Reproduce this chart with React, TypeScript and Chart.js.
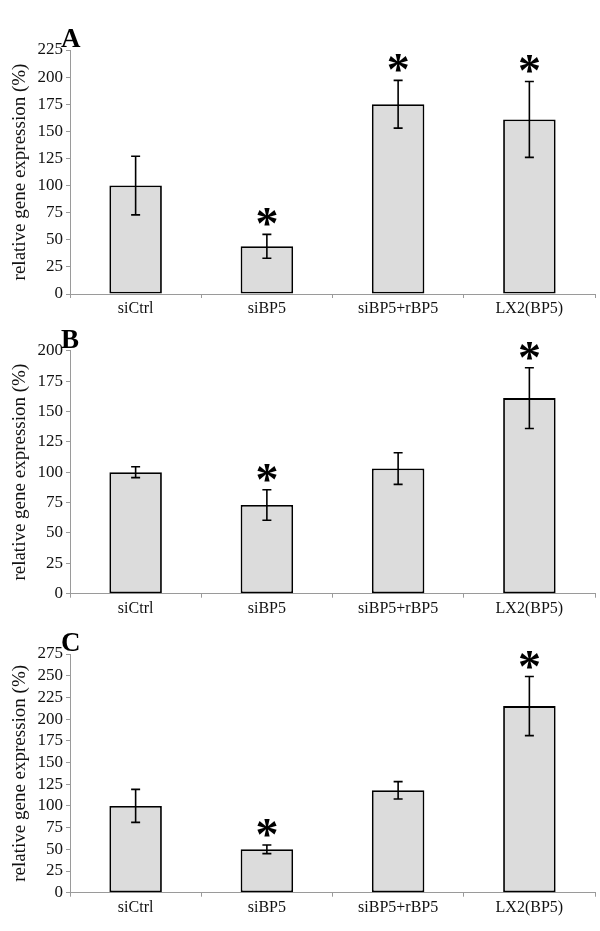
import React, { useEffect, useRef } from 'react';
import { Chart, registerables } from 'chart.js';

Chart.register(...registerables);

const categories = ['siCtrl', 'siBP5', 'siBP5+rBP5', 'LX2(BP5)'];
const yTitle = 'relative gene expression (%)';
const yStep = 25;

const labelA = 'A';
const valuesA = [100, 44, 175, 161];
const errorsA = [27, 11, 22, 35];
const sigA = [false, true, true, true];
const yMaxA = 225;

const labelB = 'B';
const valuesB = [100, 73, 103, 161];
const errorsB = [4.5, 12.5, 13, 25];
const sigB = [false, true, false, true];
const yMaxB = 200;

const labelC = 'C';
const valuesC = [100, 50, 118, 215];
const errorsC = [19, 5, 10, 34];
const sigC = [false, true, false, true];
const yMaxC = 275;

const SERIF = '"Liberation Serif", "DejaVu Serif", serif';

type PanelProps = {
  label: string;
  values: number[];
  errors: number[];
  sig: boolean[];
  yMax: number;
  top: number;
  height: number;
  chartTop: number;
  chartBottom: number;
};

function Panel({ label, values, errors, sig, yMax, top, height, chartTop, chartBottom }: PanelProps) {
  const ref = useRef<HTMLCanvasElement | null>(null);
  useEffect(() => {
    if (!ref.current) return;
    const overlay = {
      id: 'overlay',
      afterDatasetsDraw(chart: any) {
        const { ctx, chartArea } = chart;
        const y = chart.scales.y;
        const meta = chart.getDatasetMeta(0);
        ctx.save();
        ctx.strokeStyle = '#000';
        ctx.fillStyle = '#000';
        ctx.lineWidth = 1.6;
        values.forEach((v, i) => {
          const bar = meta.data[i];
          const x = bar.x;
          const yt = y.getPixelForValue(v + errors[i]);
          const yb = y.getPixelForValue(v - errors[i]);
          ctx.beginPath();
          ctx.moveTo(x, yt);
          ctx.lineTo(x, yb);
          ctx.moveTo(x - 4.5, yt);
          ctx.lineTo(x + 4.5, yt);
          ctx.moveTo(x - 4.5, yb);
          ctx.lineTo(x + 4.5, yb);
          ctx.stroke();
          if (sig[i]) {
            ctx.font = 'bold 46px ' + SERIF;
            ctx.textAlign = 'center';
            ctx.textBaseline = 'alphabetic';
            const m = ctx.measureText('*');
            const cy = yt - 17;
            const base = cy + (m.actualBoundingBoxAscent - m.actualBoundingBoxDescent) / 2;
            ctx.fillText('*', x, base);
          }
        });
        ctx.font = 'bold 27px ' + SERIF;
        ctx.textAlign = 'left';
        ctx.textBaseline = 'alphabetic';
        ctx.fillText(label, chartArea.left - 9, chartArea.top - 3);
        ctx.restore();
      },
    };
    const chart = new Chart(ref.current, {
      type: 'bar',
      data: {
        labels: categories,
        datasets: [
          {
            data: values,
            backgroundColor: '#dcdcdc',
            borderColor: '#000',
            borderWidth: 1.8,
            borderSkipped: false,
            barPercentage: 0.4,
            categoryPercentage: 1,
          },
        ],
      },
      options: {
        responsive: false,
        animation: false,
        events: [],
        layout: { padding: { top: chartTop, left: 0, right: 5, bottom: 0 } },
        plugins: { legend: { display: false }, tooltip: { enabled: false } },
        scales: {
          x: {
            afterFit: (s: any) => {
              s.height = height - chartBottom;
            },
            grid: { drawOnChartArea: false, tickLength: 4, color: '#9a9a9a', offset: true },
            border: { color: '#9a9a9a', width: 1 },
            ticks: { font: { family: SERIF, size: 16 }, color: '#111', padding: 1 },
          },
          y: {
            min: 0,
            max: yMax,
            afterFit: (s: any) => {
              s.width = 70;
            },
            grid: { drawOnChartArea: false, tickLength: 4, color: '#9a9a9a' },
            border: { color: '#9a9a9a', width: 1 },
            ticks: {
              stepSize: yStep,
              autoSkip: false,
              font: { family: SERIF, size: 17 },
              color: '#111',
              padding: 3,
            },
            title: {
              display: true,
              text: yTitle,
              font: { family: SERIF, size: 19 },
              color: '#111',
              padding: { top: 9, bottom: 0 },
            },
          },
        },
      },
      plugins: [overlay],
    });
    return () => chart.destroy();
  }, []);
  return (
    <canvas
      ref={ref}
      width={600}
      height={height}
      style={{ position: 'absolute', left: 0, top, width: 600, height }}
    />
  );
}

export default function App() {
  return (
    <div style={{ position: 'absolute', left: 0, top: 0, width: 600, height: 931, background: '#fff' }}>
      <Panel label={labelA} values={valuesA} errors={errorsA} sig={sigA} yMax={yMaxA} top={0} height={318} chartTop={50} chartBottom={294} />
      <Panel label={labelB} values={valuesB} errors={errorsB} sig={sigB} yMax={yMaxB} top={300} height={318} chartTop={50.7} chartBottom={293.7} />
      <Panel label={labelC} values={valuesC} errors={errorsC} sig={sigC} yMax={yMaxC} top={610} height={321} chartTop={44} chartBottom={282.7} />
    </div>
  );
}
